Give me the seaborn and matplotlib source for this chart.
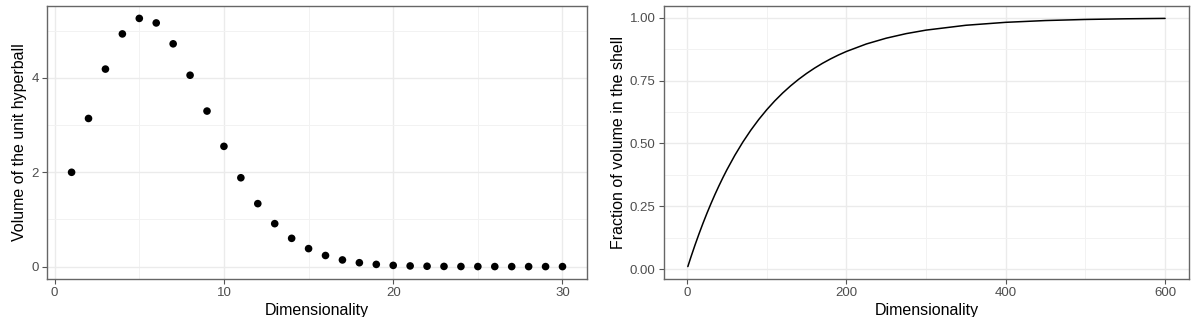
import matplotlib
matplotlib.use("Agg")
import matplotlib.pyplot as plt
import seaborn as sns
import pandas as pd
from matplotlib.ticker import FixedLocator

# Left panel: volume of unit hyperball by dimensionality
dims = list(range(1, 31))
volumes = [2.0000, 3.1416, 4.1888, 4.9348, 5.2638, 5.1677, 4.7248, 4.0587,
           3.2985, 2.5502, 1.8841, 1.3353, 0.9106, 0.5993, 0.3814, 0.2353,
           0.1410, 0.0822, 0.0466, 0.0258, 0.0139, 0.0073, 0.0038, 0.0019,
           0.0009, 0.0005, 0.0002, 0.0001, 0.00005, 0.00002]

# Right panel: fraction of volume in the shell
shell_dims = [1, 5, 10, 15, 20, 25, 30, 35, 40, 45, 50, 60, 70, 80, 90, 100,
              110, 120, 130, 140, 150, 160, 170, 180, 190, 200, 225, 250, 275,
              300, 350, 400, 450, 500, 550, 600]
shell_frac = [0.0100, 0.0490, 0.0956, 0.1399, 0.1821, 0.2222, 0.2603, 0.2966,
              0.3310, 0.3638, 0.3950, 0.4528, 0.5052, 0.5525, 0.5953, 0.6340,
              0.6690, 0.7006, 0.7292, 0.7551, 0.7785, 0.7997, 0.8189, 0.8362,
              0.8519, 0.8660, 0.8958, 0.9189, 0.9370, 0.9510, 0.9703, 0.9820,
              0.9891, 0.9934, 0.9960, 0.9976]

left_xticks = [0, 10, 20, 30]
left_yticks = [0, 2, 4]
right_xticks = [0, 200, 400, 600]
right_yticks = [0.00, 0.25, 0.50, 0.75, 1.00]
right_ylabels = ["0.00", "0.25", "0.50", "0.75", "1.00"]

sns.set_theme(style="white")
plt.rcParams["font.family"] = ["Liberation Sans", "DejaVu Sans"]

fig = plt.figure(figsize=(12, 3.17), dpi=100)
ax1 = fig.add_axes([0.0392, 0.1199, 0.450, 0.8612])
ax2 = fig.add_axes([0.5533, 0.1199, 0.4375, 0.8612])

df1 = pd.DataFrame({"d": dims, "v": volumes})
df2 = pd.DataFrame({"d": shell_dims, "f": shell_frac})

sns.scatterplot(data=df1, x="d", y="v", ax=ax1, color="black", s=30,
                edgecolor="none", zorder=3)
sns.lineplot(data=df2, x="d", y="f", ax=ax2, color="black", linewidth=1.1,
             zorder=3)

def style(ax, xlim, ylim, xt, yt, xminor, yminor, xlabel, ylabel, ylabels=None):
    ax.set_xlim(*xlim)
    ax.set_ylim(*ylim)
    ax.set_xticks(xt)
    ax.set_yticks(yt)
    if ylabels is not None:
        ax.set_yticklabels(ylabels)
    ax.xaxis.set_minor_locator(FixedLocator(xminor))
    ax.yaxis.set_minor_locator(FixedLocator(yminor))
    ax.grid(True, which="major", color="#EBEBEB", linewidth=1.0, zorder=0)
    ax.grid(True, which="minor", color="#F2F2F2", linewidth=0.7, zorder=0)
    ax.set_axisbelow(True)
    for sp in ax.spines.values():
        sp.set_color("#666666")
        sp.set_linewidth(1.0)
        sp.set_visible(True)
    ax.tick_params(which="major", length=3.5, width=0.8, color="#555555",
                   labelsize=9.5, labelcolor="#4D4D4D", pad=2.5,
                   bottom=True, left=True)
    ax.tick_params(which="minor", length=0)
    ax.set_xlabel(xlabel, fontsize=11.5, color="black", labelpad=3)
    ax.set_ylabel(ylabel, fontsize=11.5, color="black", labelpad=3)

style(ax1, (-0.45, 31.45), (-0.263, 5.527), left_xticks, left_yticks,
      [5, 15, 25], [1, 3, 5], "Dimensionality", "Volume of the unit hyperball")
style(ax2, (-28.95, 629.95), (-0.0394, 1.047), right_xticks, right_yticks,
      [100, 300, 500], [0.125, 0.375, 0.625, 0.875], "Dimensionality",
      "Fraction of volume in the shell", right_ylabels)

fig.savefig("out.png", dpi=100)
